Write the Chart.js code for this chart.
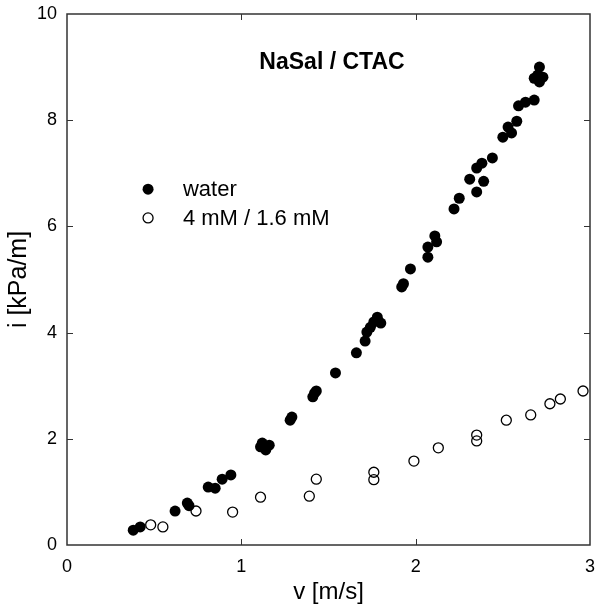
<!DOCTYPE html>
<html lang="en">
<head>
    <meta charset="UTF-8">
    <title>NaSal / CTAC</title>
    <script src="https://cdn.jsdelivr.net/npm/chart.js"></script>
    <style>
        body { margin: 0; background: #fff; }
        #wrap { width: 597px; height: 611px; }
    </style>
</head>
<body>
    <div id="wrap"><canvas id="chart" width="597" height="611"></canvas></div>

    <script>
        // water (filled circles)
        const waterV = [0.38, 0.42, 0.62, 0.69, 0.70, 0.81, 0.85, 0.89, 0.94, 1.11, 1.12, 1.14, 1.16,
            1.28, 1.29, 1.41, 1.42, 1.43, 1.54, 1.66, 1.71, 1.72, 1.74, 1.76, 1.78, 1.80, 1.92, 1.93,
            1.97, 2.07, 2.07, 2.11, 2.12, 2.22, 2.25, 2.31, 2.35, 2.39, 2.35, 2.38, 2.44, 2.50, 2.55,
            2.53, 2.58, 2.59, 2.63, 2.68, 2.68, 2.70, 2.71, 2.73, 2.71];
        const waterI = [0.28, 0.34, 0.64, 0.79, 0.74, 1.09, 1.07, 1.24, 1.32, 1.85, 1.92, 1.79, 1.88,
            2.35, 2.41, 2.79, 2.86, 2.90, 3.24, 3.62, 3.84, 4.01, 4.10, 4.20, 4.29, 4.18, 4.86, 4.92,
            5.20, 5.42, 5.61, 5.82, 5.71, 6.33, 6.53, 6.89, 6.65, 6.85, 7.10, 7.19, 7.29, 7.68, 7.76,
            7.87, 7.98, 8.27, 8.34, 8.38, 8.79, 8.85, 9.00, 8.81, 8.72];

        // 4 mM / 1.6 mM (open circles)
        const solV = [0.48, 0.55, 0.74, 0.95, 1.11, 1.39, 1.43, 1.76, 1.76, 1.99, 2.13, 2.35, 2.35,
            2.52, 2.66, 2.77, 2.83, 2.96];
        const solI = [0.38, 0.34, 0.64, 0.62, 0.90, 0.92, 1.24, 1.37, 1.23, 1.58, 1.83, 2.07, 1.96,
            2.35, 2.45, 2.66, 2.75, 2.90];

        const xTicks = [0, 1, 2, 3];
        const yTicks = [0, 2, 4, 6, 8, 10];
        const seriesNames = ['water', '4 mM / 1.6 mM'];
        const titleText = 'NaSal / CTAC';

        const FONT = 'Liberation Sans, Arial, sans-serif';

        const toPts = (xs, ys) => xs.map((x, k) => ({ x: x, y: ys[k] }));

        // frame, inward ticks, title and legend
        const decor = {
            id: 'decor',
            afterDraw(chart) {
                const c = chart.ctx;
                const a = chart.chartArea;
                const sx = chart.scales.x, sy = chart.scales.y;
                c.save();
                c.strokeStyle = '#333';
                c.lineWidth = 1.5;
                c.strokeRect(a.left, a.top, a.right - a.left, a.bottom - a.top);
                c.lineWidth = 1;
                c.beginPath();
                xTicks.slice(1, -1).forEach(v => {
                    const px = Math.round(sx.getPixelForValue(v)) + 0.5;
                    c.moveTo(px, a.bottom); c.lineTo(px, a.bottom - 6);
                    c.moveTo(px, a.top); c.lineTo(px, a.top + 6);
                });
                yTicks.slice(1, -1).forEach(v => {
                    const py = Math.round(sy.getPixelForValue(v)) + 0.5;
                    c.moveTo(a.left, py); c.lineTo(a.left + 6, py);
                    c.moveTo(a.right, py); c.lineTo(a.right - 6, py);
                });
                c.stroke();

                // title inside the plot
                c.fillStyle = '#000';
                c.font = 'bold 23px ' + FONT;
                c.textAlign = 'center';
                c.textBaseline = 'middle';
                c.fillText(titleText, sx.getPixelForValue(1.52), sy.getPixelForValue(9.08));

                // legend
                const lx = sx.getPixelForValue(0.465);
                const tx = sx.getPixelForValue(0.665);
                const ly1 = sy.getPixelForValue(6.70), ly2 = sy.getPixelForValue(6.16);
                c.font = '22px ' + FONT;
                c.textAlign = 'left';
                c.beginPath(); c.arc(lx, ly1, 5.5, 0, Math.PI * 2); c.fill();
                c.beginPath(); c.arc(lx, ly2, 5, 0, Math.PI * 2);
                c.strokeStyle = '#000'; c.lineWidth = 1.3; c.stroke();
                c.fillText(seriesNames[0], tx, ly1 + 1);
                c.fillText(seriesNames[1], tx, ly2 + 1);
                c.restore();
            }
        };

        new Chart(document.getElementById('chart'), {
            type: 'scatter',
            data: {
                datasets: [{
                    label: seriesNames[0],
                    data: toPts(waterV, waterI),
                    pointRadius: 5.5,
                    pointBackgroundColor: '#000',
                    pointBorderColor: '#000',
                    pointBorderWidth: 0
                }, {
                    label: seriesNames[1],
                    data: toPts(solV, solI),
                    pointRadius: 5,
                    pointBackgroundColor: 'rgba(0,0,0,0)',
                    pointBorderColor: '#000',
                    pointBorderWidth: 1.3
                }]
            },
            options: {
                responsive: false,
                animation: false,
                events: [],
                layout: { autoPadding: false, padding: { left: 0, top: 14, right: 7, bottom: 0 } },
                plugins: { legend: { display: false }, tooltip: { enabled: false } },
                scales: {
                    x: {
                        type: 'linear', min: 0, max: 3,
                        afterFit(s) { s.height = 66; s.paddingLeft = 0; s.paddingRight = 0; },
                        afterBuildTicks(s) { s.ticks = xTicks.map(v => ({ value: v })); },
                        grid: { display: false, drawTicks: false },
                        border: { display: false },
                        ticks: { color: '#000', font: { family: FONT, size: 18 }, padding: 11, maxRotation: 0 },
                        title: { display: true, text: 'v [m/s]', color: '#000', font: { family: FONT, size: 24 }, padding: { top: 4 } }
                    },
                    y: {
                        type: 'linear', min: 0, max: 10,
                        afterFit(s) { s.width = 67; s.paddingTop = 0; s.paddingBottom = 0; },
                        afterBuildTicks(s) { s.ticks = yTicks.map(v => ({ value: v })); },
                        grid: { display: false, drawTicks: false },
                        border: { display: false },
                        ticks: { color: '#000', font: { family: FONT, size: 18 }, padding: 10 },
                        title: { display: true, text: 'i [kPa/m]', color: '#000', font: { family: FONT, size: 25 }, padding: { bottom: 2 } }
                    }
                }
            },
            plugins: [decor]
        });
    </script>
</body>
</html>
